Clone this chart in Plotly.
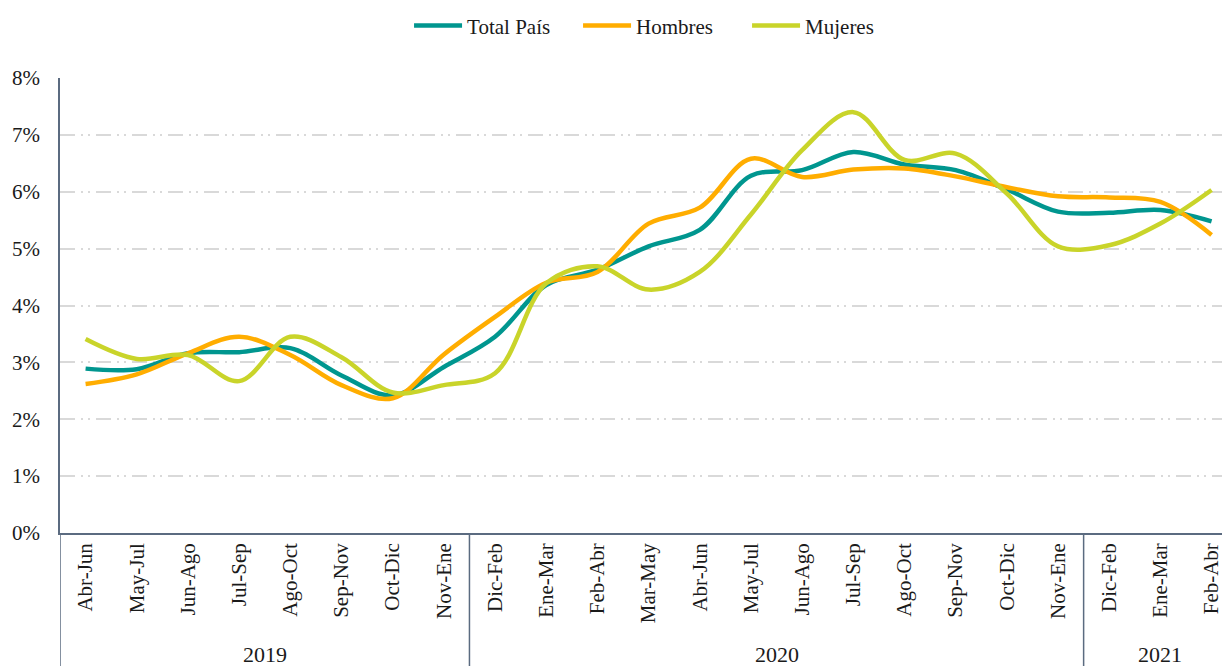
import plotly.graph_objects as go

# categories (trimestres moviles) and their year groups
periods = ["Abr-Jun", "May-Jul", "Jun-Ago", "Jul-Sep", "Ago-Oct", "Sep-Nov", "Oct-Dic", "Nov-Ene",
           "Dic-Feb", "Ene-Mar", "Feb-Abr", "Mar-May", "Abr-Jun", "May-Jul", "Jun-Ago", "Jul-Sep",
           "Ago-Oct", "Sep-Nov", "Oct-Dic", "Nov-Ene",
           "Dic-Feb", "Ene-Mar", "Feb-Abr"]
year_labels = ["2019", "2020", "2021"]
year_sizes = [8, 12, 3]

total_pais = [2.89, 2.88, 3.16, 3.18, 3.25, 2.77, 2.42, 2.92, 3.45, 4.36, 4.63, 5.04,
              5.33, 6.28, 6.38, 6.70, 6.48, 6.38, 6.04, 5.65, 5.63, 5.68, 5.48]
hombres = [2.62, 2.79, 3.16, 3.45, 3.13, 2.60, 2.37, 3.14, 3.80, 4.40, 4.59, 5.44,
           5.72, 6.58, 6.26, 6.39, 6.41, 6.27, 6.08, 5.92, 5.90, 5.82, 5.24]
mujeres = [3.41, 3.06, 3.13, 2.67, 3.45, 3.09, 2.47, 2.60, 2.81, 4.39, 4.69, 4.28,
           4.59, 5.60, 6.73, 7.40, 6.56, 6.67, 5.97, 5.04, 5.06, 5.44, 6.03]

series = [("Total País", total_pais, "#00968f"),
          ("Hombres", hombres, "#ffad00"),
          ("Mujeres", mujeres, "#c9d42a")]

x = list(range(len(periods)))
axis_col = "#5b6b80"
font_family = "Liberation Serif, DejaVu Serif, serif"

fig = go.Figure()
for name, vals, color in series:
    fig.add_trace(go.Scatter(
        x=x, y=vals, name=name, mode="lines",
        line=dict(color=color, width=4.5, shape="spline", smoothing=1),
    ))

# year group dividers and labels under the category ticks
start = 0
for label, n in zip(year_labels, year_sizes):
    fig.add_shape(type="line", xref="x", yref="paper", x0=start - 0.5, x1=start - 0.5,
                  y0=0, y1=-0.3, line=dict(color=axis_col, width=1.5))
    fig.add_annotation(x=start + (n - 1) / 2, y=-0.266, xref="x", yref="paper",
                       text=label, showarrow=False, yanchor="middle",
                       font=dict(size=22))
    start += n

# page has an 8px body margin, so the figure is sized to the visible area
fig.update_layout(
    width=1222, height=658,
    margin=dict(l=52, r=0, t=70, b=133),
    plot_bgcolor="white", paper_bgcolor="white",
    font=dict(family=font_family, size=21, color="#1a1a1a"),
    legend=dict(orientation="h", x=0.515, xanchor="center", yref="container", y=0.973,
                yanchor="middle", font=dict(size=21), traceorder="normal",
                entrywidth=106, itemwidth=48),
    showlegend=True,
)

fig.update_yaxes(
    range=[0, 8], dtick=1, ticksuffix="%",
    showgrid=True, gridcolor="#d9d9d9", gridwidth=1.5,
    griddash="15px,6px,2px,5px,2px,6px",
    showline=True, linecolor=axis_col, linewidth=1.5,
    zeroline=False, ticks="", tickfont=dict(size=21),
    ticklabelstandoff=14, automargin=False,
)
fig.update_xaxes(
    range=[-0.5, 22.36], tickvals=x, ticktext=periods,
    showline=True, linecolor=axis_col, linewidth=1.5,
    tickangle=-90, tickfont=dict(size=21), showgrid=False, ticks="",
    zeroline=False, automargin=False,
)

fig.write_html("out.html")
